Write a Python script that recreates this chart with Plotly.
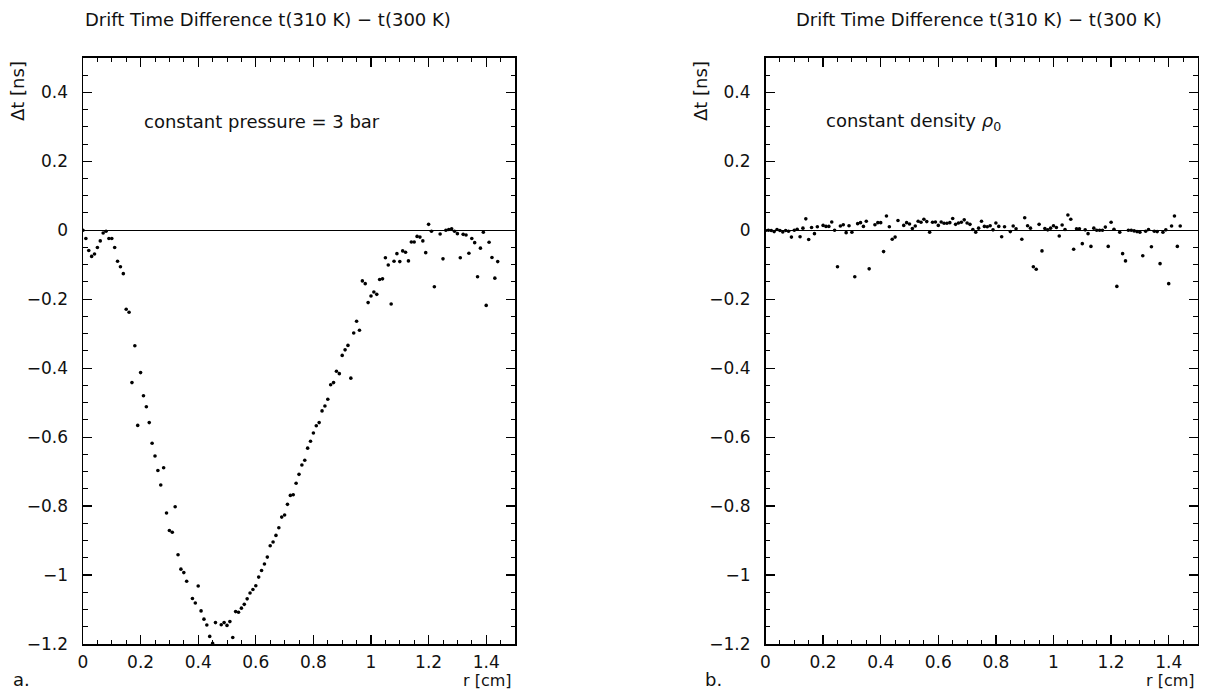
import plotly.graph_objects as go

# ---- data: panel a (constant pressure = 3 bar) ----
r_a = [0.00, 0.01, 0.02, 0.03, 0.04, 0.05, 0.06, 0.07, 0.08, 0.09,
       0.10, 0.11, 0.12, 0.13, 0.14, 0.15, 0.16, 0.17, 0.18, 0.19,
       0.20, 0.21, 0.22, 0.23, 0.24, 0.25, 0.26, 0.27, 0.28, 0.29,
       0.30, 0.31, 0.32, 0.33, 0.34, 0.35, 0.36, 0.38, 0.39,
       0.40, 0.41, 0.42, 0.43, 0.44, 0.45, 0.46, 0.48, 0.49,
       0.50, 0.51, 0.52, 0.53, 0.54, 0.55, 0.56, 0.57, 0.58, 0.59,
       0.60, 0.61, 0.62, 0.63, 0.64, 0.65, 0.66, 0.67, 0.68, 0.69,
       0.70, 0.71, 0.72, 0.73, 0.74, 0.75, 0.76, 0.77, 0.78, 0.79,
       0.80, 0.81, 0.82, 0.83, 0.84, 0.85, 0.86, 0.87, 0.88, 0.89,
       0.90, 0.91, 0.92, 0.93, 0.94, 0.95, 0.96, 0.97, 0.98, 0.99,
       1.00, 1.01, 1.02, 1.03, 1.04, 1.05, 1.06, 1.07, 1.08, 1.09,
       1.10, 1.11, 1.12, 1.13, 1.14, 1.15, 1.16, 1.17, 1.18, 1.19,
       1.20, 1.21, 1.22, 1.24, 1.25, 1.26, 1.27, 1.28, 1.29,
       1.30, 1.31, 1.32, 1.33, 1.34, 1.35, 1.36, 1.37, 1.38, 1.39,
       1.40, 1.41, 1.42, 1.43, 1.44]
dt_a = [0.000, -0.024, -0.059, -0.076, -0.069, -0.050, -0.031, -0.008, -0.003, -0.024,
        -0.024, -0.050, -0.090, -0.106, -0.126, -0.229, -0.238, -0.442, -0.335, -0.566,
        -0.413, -0.480, -0.512, -0.558, -0.618, -0.655, -0.697, -0.739, -0.689, -0.820,
        -0.871, -0.876, -0.802, -0.941, -0.983, -0.993, -1.018, -1.068, -1.081,
        -1.032, -1.104, -1.128, -1.145, -1.178, -1.198, -1.138, -1.144, -1.138,
        -1.146, -1.135, -1.181, -1.106, -1.108, -1.096, -1.085, -1.069, -1.052, -1.042,
        -1.031, -1.006, -0.987, -0.968, -0.948, -0.915, -0.904, -0.885, -0.863, -0.832,
        -0.826, -0.795, -0.769, -0.767, -0.734, -0.708, -0.681, -0.667, -0.632, -0.612,
        -0.588, -0.567, -0.558, -0.524, -0.510, -0.490, -0.448, -0.442, -0.409, -0.416,
        -0.363, -0.347, -0.334, -0.429, -0.298, -0.264, -0.290, -0.147, -0.155, -0.210,
        -0.191, -0.179, -0.186, -0.143, -0.141, -0.080, -0.101, -0.214, -0.090, -0.068,
        -0.091, -0.060, -0.064, -0.089, -0.034, -0.034, -0.018, -0.020, -0.031, -0.065,
        0.017, -0.003, -0.164, -0.011, -0.083, 0.000, 0.002, 0.004, -0.003,
        -0.010, -0.080, -0.012, -0.014, -0.067, -0.024, -0.036, -0.135, -0.052, -0.006,
        -0.218, -0.035, -0.079, -0.139, -0.091]

# ---- data: panel b (constant density rho_0) ----
r_b = [0.00, 0.01, 0.02, 0.03, 0.04, 0.05, 0.06, 0.07, 0.08, 0.09,
       0.10, 0.11, 0.12, 0.13, 0.14, 0.15, 0.16, 0.17, 0.18,
       0.20, 0.21, 0.22, 0.23, 0.24, 0.25, 0.26, 0.27, 0.28, 0.29,
       0.30, 0.31, 0.32, 0.33, 0.34, 0.35, 0.36, 0.38, 0.39,
       0.40, 0.41, 0.42, 0.43, 0.44, 0.45, 0.46, 0.48, 0.49,
       0.50, 0.51, 0.52, 0.53, 0.54, 0.55, 0.56, 0.57, 0.58, 0.59,
       0.60, 0.61, 0.62, 0.63, 0.64, 0.65, 0.66, 0.67, 0.68, 0.69,
       0.70, 0.71, 0.72, 0.73, 0.74, 0.75, 0.76, 0.77, 0.78, 0.79,
       0.80, 0.81, 0.82, 0.83, 0.85, 0.86, 0.87, 0.89,
       0.90, 0.91, 0.92, 0.93, 0.94, 0.95, 0.96, 0.97, 0.98, 0.99,
       1.00, 1.01, 1.02, 1.03, 1.04, 1.05, 1.06, 1.07, 1.08, 1.09,
       1.10, 1.11, 1.12, 1.13, 1.14, 1.15, 1.16, 1.17, 1.18, 1.19,
       1.20, 1.21, 1.22, 1.23, 1.24, 1.25, 1.26, 1.27, 1.28, 1.29,
       1.30, 1.31, 1.32, 1.33, 1.34, 1.35, 1.36, 1.37, 1.38, 1.39,
       1.40, 1.41, 1.42, 1.43, 1.44]
dt_b = [-0.001, 0.000, -0.001, -0.004, 0.002, -0.001, -0.005, -0.001, -0.003, -0.020,
        0.000, 0.003, -0.019, 0.006, 0.033, -0.027, 0.008, -0.010, 0.010,
        0.014, 0.011, 0.011, 0.024, 0.000, -0.106, 0.012, 0.016, -0.007, 0.013,
        -0.006, -0.135, 0.019, 0.022, 0.011, 0.026, -0.112, 0.016, 0.022,
        0.022, -0.062, 0.041, 0.010, -0.026, -0.020, 0.028, 0.014, 0.022,
        0.018, 0.005, 0.012, 0.026, 0.023, 0.032, 0.025, -0.006, 0.023, 0.024,
        0.014, 0.024, 0.020, 0.020, 0.022, 0.034, 0.017, 0.021, 0.023, 0.030,
        0.021, 0.017, 0.002, -0.006, 0.006, 0.026, 0.011, 0.010, 0.013, 0.001,
        0.021, 0.011, -0.019, 0.010, -0.004, 0.012, 0.004, -0.026,
        0.036, 0.013, 0.006, -0.106, -0.113, 0.017, -0.060, 0.005, 0.001, 0.006,
        0.013, 0.008, -0.017, 0.015, 0.002, 0.044, 0.032, -0.055, 0.004, 0.004,
        -0.039, 0.001, -0.010, -0.047, 0.006, 0.000, 0.000, 0.000, 0.009, -0.047,
        0.023, 0.003, -0.163, -0.006, -0.068, -0.089, 0.000, 0.000, -0.002, -0.004,
        -0.006, -0.074, -0.003, 0.002, -0.048, -0.003, -0.004, -0.097, -0.006, 0.001,
        -0.155, 0.012, 0.041, -0.047, 0.012]

x_ticks = [0, 0.2, 0.4, 0.6, 0.8, 1.0, 1.2, 1.4]
y_ticks = [-1.2, -1.0, -0.8, -0.6, -0.4, -0.2, 0, 0.2, 0.4]

title_text = "Drift Time Difference t(310 K) − t(300 K)"

W, H = 1210, 693
FONT = "DejaVu Sans"
INK = "#111111"


def px(x):
    return x / W


def py(y):
    return 1 - y / H


fig = go.Figure()
marker = dict(color="black", size=3.6, symbol="circle")
fig.add_trace(go.Scatter(x=r_a, y=dt_a, mode="markers", marker=marker,
                         xaxis="x", yaxis="y", showlegend=False, cliponaxis=True))
fig.add_trace(go.Scatter(x=r_b, y=dt_b, mode="markers", marker=marker,
                         xaxis="x2", yaxis="y2", showlegend=False, cliponaxis=True))
# the same series bound (transparent) to the overlay axes, so those axes are drawn
ghost = dict(color="rgba(0,0,0,0)", size=1)
fig.add_trace(go.Scatter(x=r_a, y=dt_a, mode="markers", marker=ghost, hoverinfo="skip",
                         xaxis="x3", yaxis="y3", showlegend=False))
fig.add_trace(go.Scatter(x=r_b, y=dt_b, mode="markers", marker=ghost, hoverinfo="skip",
                         xaxis="x4", yaxis="y4", showlegend=False))

ydom = [py(644), py(57.8)]
xdom1 = [px(83), px(515)]
xdom2 = [px(765.5), px(1197.5)]

tick_style = dict(ticks="inside", ticklen=9, tickwidth=1.2, tickcolor="black",
                  minor=dict(dtick=0.05, ticks="inside", ticklen=4.5, tickwidth=1, tickcolor="black"),
                  showgrid=False, fixedrange=True, automargin=False)
common_x = dict(range=[0, 1.5], tickvals=x_ticks, showline=True, linecolor="black",
                linewidth=1.5, mirror=True, zeroline=False,
                tickfont=dict(family=FONT, size=17, color=INK), ticklabelstandoff=2,
                **tick_style)
common_y = dict(range=[-1.2, 0.5], tickvals=y_ticks, showline=True, linecolor="black",
                linewidth=1.5, mirror=True, zeroline=True, zerolinecolor="black",
                zerolinewidth=1.4,
                tickfont=dict(family=FONT, size=17, color=INK), ticklabelstandoff=10,
                **tick_style)
# overlay axes giving the mirrored (top / right) tick marks, major and minor
top_x = dict(range=[0, 1.5], tickvals=x_ticks, showticklabels=False, showline=False,
             zeroline=False, side="top", **tick_style)
right_y = dict(range=[-1.2, 0.5], tickvals=y_ticks, showticklabels=False, showline=False,
               zeroline=False, side="right", **tick_style)

fig.update_layout(
    template="none",
    width=W, height=H,
    margin=dict(l=0, r=0, t=0, b=0, pad=0, autoexpand=False),
    paper_bgcolor="white", plot_bgcolor="white",
    font=dict(family=FONT, color=INK),
    xaxis=dict(domain=xdom1, anchor="y", **common_x),
    yaxis=dict(domain=ydom, anchor="x", **common_y),
    xaxis2=dict(domain=xdom2, anchor="y2", **common_x),
    yaxis2=dict(domain=ydom, anchor="x2", **common_y),
    xaxis3=dict(domain=xdom1, anchor="y3", overlaying="x", **top_x),
    yaxis3=dict(domain=ydom, anchor="x3", overlaying="y", **right_y),
    xaxis4=dict(domain=xdom2, anchor="y4", overlaying="x2", **top_x),
    yaxis4=dict(domain=ydom, anchor="x4", overlaying="y2", **right_y),
)

ann_font = dict(family=FONT, size=18, color=INK)
small = dict(family=FONT, size=16, color=INK)
annotations = [
    dict(text=title_text, x=px(83), y=py(19), xanchor="left", yanchor="middle"),
    dict(text=title_text, x=px(794), y=py(19), xanchor="left", yanchor="middle"),
    dict(text="constant pressure = 3 bar", x=px(142), y=py(122), xanchor="left", yanchor="middle"),
    dict(text="constant density <i>ρ</i><sub>0</sub>", x=px(824), y=py(122), xanchor="left", yanchor="middle"),
    dict(text="Δt [ns]", x=px(17), y=py(59), xanchor="center", yanchor="top", textangle=-90),
    dict(text="Δt [ns]", x=px(700), y=py(59), xanchor="center", yanchor="top", textangle=-90),
    dict(text="r [cm]", x=px(514), y=py(692), xanchor="right", yanchor="bottom", font=small),
    dict(text="r [cm]", x=px(1197), y=py(692), xanchor="right", yanchor="bottom", font=small),
    dict(text="a.", x=px(11), y=py(692), xanchor="left", yanchor="bottom"),
    dict(text="b.", x=px(703), y=py(692), xanchor="left", yanchor="bottom"),
]
for a in annotations:
    a.setdefault("font", ann_font)
    a.update(xref="paper", yref="paper", showarrow=False)
fig.update_layout(annotations=annotations)

fig.write_html("out.html", config={"displayModeBar": False, "staticPlot": True},
               post_script="document.body.style.margin='0';document.body.style.overflow='hidden';")
